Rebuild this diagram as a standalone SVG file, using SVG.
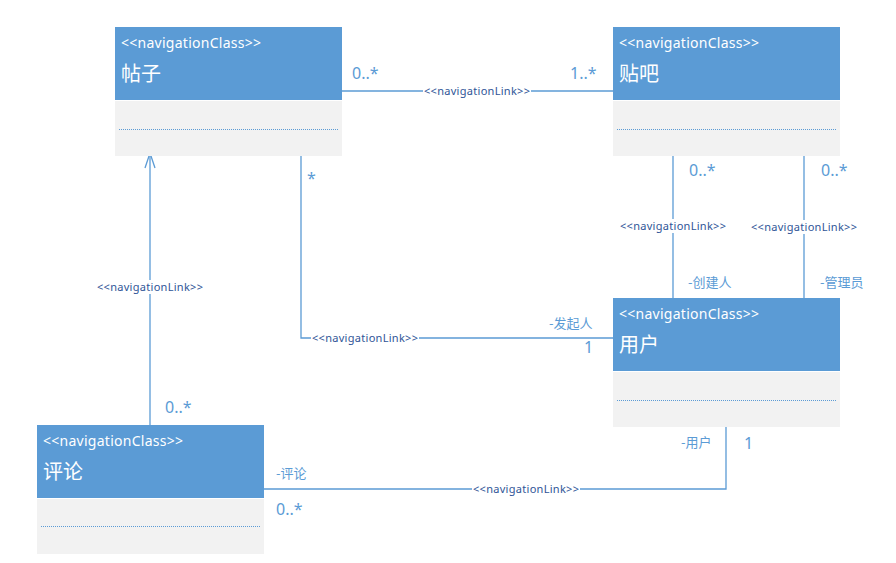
<svg xmlns="http://www.w3.org/2000/svg" width="896" height="563" viewBox="0 0 896 563">
<style>
.hdr{fill:#5B9BD5}
.body{fill:#F2F2F2}
.sep{stroke:#5B9BD5;stroke-width:1;stroke-dasharray:1 1}
.st{font-family:"Noto Sans","Liberation Sans","Noto Sans CJK SC",sans-serif;font-size:14px;fill:#fff}
.nm{font-family:"Noto Sans CJK SC","Noto Sans",sans-serif;font-size:20px;fill:#fff}
.ln{stroke:#5B9BD5;stroke-width:1.3;fill:none}
.lk{font-family:"Noto Sans","Liberation Sans",sans-serif;font-size:11px;fill:#2F5597}
.mul{font-family:"Noto Sans","Liberation Sans",sans-serif;font-size:16px;fill:#5B9BD5}
.role{font-family:"Noto Sans CJK SC","Noto Sans",sans-serif;font-size:13px;fill:#5B9BD5}
.bg{fill:#fff}
</style>
<rect width="896" height="563" fill="#fff"/>
<g id="connectors">
<!-- 帖子 - 贴吧 -->
<line class="ln" x1="342" y1="91" x2="613" y2="91"/>
<rect class="bg" x="423" y="84" width="108" height="13"/>
<text class="lk" x="477" y="94.500" text-anchor="middle" textLength="106">&lt;&lt;navigationLink&gt;&gt;</text>
<text class="mul" x="352" y="79">0..*</text>
<text class="mul" x="570" y="79">1..*</text>
<!-- 贴吧 - 用户 创建人 -->
<line class="ln" x1="673" y1="156" x2="673" y2="298"/>
<rect class="bg" x="619" y="219" width="108" height="14"/>
<text class="lk" x="673" y="230" text-anchor="middle" textLength="106">&lt;&lt;navigationLink&gt;&gt;</text>
<text class="mul" x="689" y="176">0..*</text>
<text class="role" x="688" y="287">-创建人</text>
<!-- 贴吧 - 用户 管理员 -->
<line class="ln" x1="804" y1="156" x2="804" y2="298"/>
<rect class="bg" x="750" y="220" width="108" height="14"/>
<text class="lk" x="804" y="231" text-anchor="middle" textLength="106">&lt;&lt;navigationLink&gt;&gt;</text>
<text class="mul" x="821" y="176">0..*</text>
<text class="role" x="820" y="287">-管理员</text>
<!-- 帖子 - 用户 发起人 -->
<polyline class="ln" points="301,156 301,338 613,338"/>
<rect class="bg" x="311" y="331" width="108" height="13"/>
<text class="lk" x="365" y="341.500" text-anchor="middle" textLength="106">&lt;&lt;navigationLink&gt;&gt;</text>
<text class="mul" x="307" y="184" font-size="14">*</text>
<text class="role" x="549" y="328">-发起人</text>
<text class="mul" x="584" y="353" font-size="15">1</text>
<!-- 评论 - 帖子 -->
<line class="ln" x1="150" y1="425" x2="150" y2="154"/>
<polyline class="ln" points="145,168 150,153 155,168"/>
<rect class="bg" x="96" y="280" width="108" height="14"/>
<text class="lk" x="150" y="291" text-anchor="middle" textLength="106">&lt;&lt;navigationLink&gt;&gt;</text>
<text class="mul" x="165" y="413">0..*</text>
<!-- 评论 - 用户 -->
<polyline class="ln" points="264,489 726,489 726,427"/>
<rect class="bg" x="472" y="482" width="108" height="13"/>
<text class="lk" x="526" y="492.500" text-anchor="middle" textLength="106">&lt;&lt;navigationLink&gt;&gt;</text>
<text class="role" x="276" y="478">-评论</text>
<text class="mul" x="276" y="515">0..*</text>
<text class="role" x="681" y="447">-用户</text>
<text class="mul" x="744" y="449">1</text>
</g>
<g id="tiezi">
<rect class="hdr" x="115" y="27" width="227" height="73"/>
<rect class="body" x="115" y="101" width="227" height="55"/>
<line class="sep" x1="119" y1="129.500" x2="338" y2="129.500"/>
<text class="st" x="121" y="48" textLength="140">&lt;&lt;navigationClass&gt;&gt;</text>
<text class="nm" x="121" y="81">帖子</text>
</g>
<g id="tieba">
<rect class="hdr" x="613" y="27" width="227" height="73"/>
<rect class="body" x="613" y="101" width="227" height="55"/>
<line class="sep" x1="617" y1="129.500" x2="836" y2="129.500"/>
<text class="st" x="619" y="48" textLength="140">&lt;&lt;navigationClass&gt;&gt;</text>
<text class="nm" x="619" y="81">贴吧</text>
</g>
<g id="yonghu">
<rect class="hdr" x="613" y="298" width="227" height="73"/>
<rect class="body" x="613" y="372" width="227" height="55"/>
<line class="sep" x1="617" y1="400.500" x2="836" y2="400.500"/>
<text class="st" x="619" y="319" textLength="140">&lt;&lt;navigationClass&gt;&gt;</text>
<text class="nm" x="619" y="352">用户</text>
</g>
<g id="pinglun">
<rect class="hdr" x="37" y="425" width="227" height="73"/>
<rect class="body" x="37" y="499" width="227" height="55"/>
<line class="sep" x1="41" y1="526.500" x2="260" y2="526.500"/>
<text class="st" x="43" y="446" textLength="140">&lt;&lt;navigationClass&gt;&gt;</text>
<text class="nm" x="43" y="479">评论</text>
</g>
</svg>
